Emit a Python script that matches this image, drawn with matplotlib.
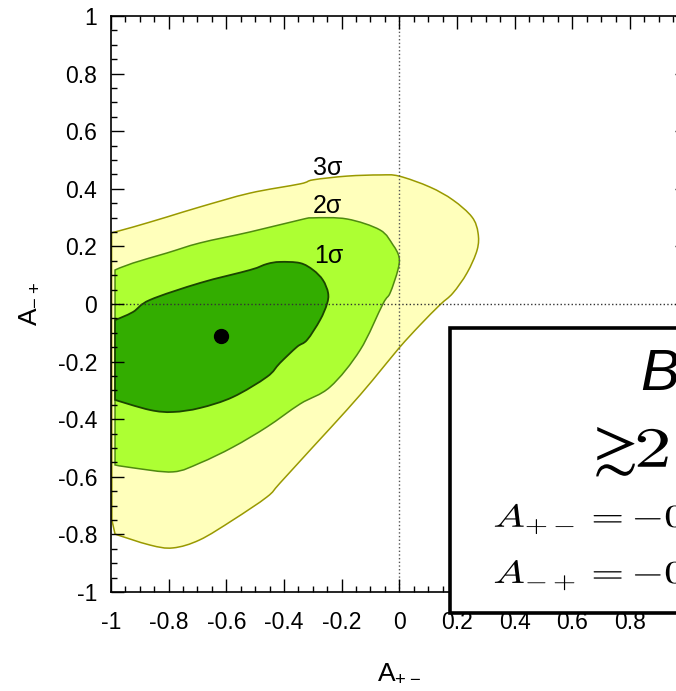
import matplotlib
matplotlib.use("Agg")
import numpy as np
import matplotlib.pyplot as plt
from matplotlib.patches import Rectangle, PathPatch
from matplotlib.path import Path
from matplotlib.textpath import TextPath
from matplotlib.font_manager import FontProperties
from matplotlib.transforms import Affine2D, ScaledTranslation
from matplotlib.ticker import MultipleLocator, FuncFormatter

plt.rcParams['font.family'] = ['Liberation Sans', 'DejaVu Sans']
plt.rcParams['axes.unicode_minus'] = False

# confidence-level boundaries in the (A_{+-}, A_{-+}) plane
sigma3_x = [-0.998, -0.924, -0.806, -0.691, -0.518, -0.344, -0.299, -0.181, -0.067, -0.001,
            0.106, 0.186, 0.252, 0.273, 0.270, 0.235, 0.186, 0.141, 0.072, -0.001,
            -0.092, -0.182, -0.300, -0.414, -0.459, -0.577, -0.692, -0.785, -0.865, -0.986,
            -0.997, -0.998]
sigma3_y = [0.247, 0.267, 0.302, 0.337, 0.385, 0.417, 0.431, 0.444, 0.448, 0.444,
            0.406, 0.361, 0.302, 0.247, 0.188, 0.108, 0.038, -0.003, -0.073, -0.153,
            -0.264, -0.368, -0.497, -0.622, -0.670, -0.750, -0.819, -0.847, -0.837, -0.799,
            -0.750, 0.014]

sigma2_x = [-0.986, -0.924, -0.806, -0.691, -0.518, -0.344, -0.299, -0.181, -0.067, -0.022,
            -0.001, -0.005, -0.032, -0.057, -0.136, -0.240, -0.344, -0.459, -0.577, -0.691,
            -0.785, -0.924, -0.986]
sigma2_y = [0.118, 0.142, 0.177, 0.212, 0.250, 0.292, 0.299, 0.295, 0.257, 0.205,
            0.163, 0.118, 0.038, 0.000, -0.160, -0.288, -0.347, -0.427, -0.497, -0.552,
            -0.583, -0.569, -0.559]

sigma1_x = [-0.986, -0.924, -0.865, -0.691, -0.518, -0.459, -0.414, -0.344, -0.299, -0.265,
            -0.247, -0.251, -0.275, -0.320, -0.355, -0.414, -0.459, -0.577, -0.691, -0.785,
            -0.865, -0.986]
sigma1_y = [-0.056, -0.028, 0.014, 0.073, 0.118, 0.139, 0.146, 0.142, 0.118, 0.083,
            0.038, 0.000, -0.056, -0.125, -0.149, -0.205, -0.253, -0.323, -0.361, -0.375,
            -0.368, -0.333]

best_fit = (-0.619, -0.110)

level_names = ['3σ', '2σ', '1σ']
level_label_x = [-0.248, -0.248, -0.244]
level_label_y = [0.472, 0.340, 0.167]


def smooth_contour(xs, ys, corners=()):
    """Closed Bezier path through the vertices; tangent is zeroed at corner vertices."""
    pts = np.column_stack([xs, ys])
    n = len(pts)
    tang = np.array([(pts[(i + 1) % n] - pts[i - 1]) / 2 for i in range(n)])
    for c in corners:
        tang[c % n] = 0
    verts = [pts[0]]
    codes = [Path.MOVETO]
    for i in range(n):
        j = (i + 1) % n
        verts += [pts[i] + tang[i] / 3, pts[j] - tang[j] / 3, pts[j]]
        codes += [Path.CURVE4] * 3
    verts.append(pts[0])
    codes.append(Path.CLOSEPOLY)
    return Path(verts, codes)


def wide_text(ax, x, y, s, size, stretch=1.0, zorder=6):
    """Math text as an outline, widened horizontally, baseline-left anchored at (x, y)."""
    prop = FontProperties(family='DejaVu Serif', math_fontfamily='cm')
    tp = TextPath((0, 0), s, size=size, prop=prop)
    fig = ax.figure
    tr = (Affine2D().scale(stretch / 72.0, 1 / 72.0) + fig.dpi_scale_trans
          + ScaledTranslation(x, y, ax.transData))
    ax.add_patch(PathPatch(tp, transform=tr, facecolor='black', edgecolor='none',
                           clip_on=False, zorder=zorder))


fig = plt.figure(figsize=(6.76, 6.91), dpi=100)
# axes run past the right edge of the canvas
ax = fig.add_axes([0.1642, 0.1433, 0.853, 0.8336])

ax.add_patch(PathPatch(smooth_contour(sigma3_x, sigma3_y, corners=(0, -3, -2, -1)),
                       facecolor='#ffffbb', edgecolor='#999900', linewidth=1.1, zorder=1))
ax.add_patch(PathPatch(smooth_contour(sigma2_x, sigma2_y, corners=(0, -1)),
                       facecolor='#adff33', edgecolor='#4f8a10', linewidth=1.1, zorder=1.1))
ax.add_patch(PathPatch(smooth_contour(sigma1_x, sigma1_y, corners=(0, -1)),
                       facecolor='#33ad00', edgecolor='#1a4400', linewidth=1.3, zorder=1.2))

ax.axvline(0, color='#555555', linestyle=':', linewidth=1.0, zorder=1.5)
ax.axhline(0, color='#333333', linestyle=':', linewidth=1.0, zorder=1.5)

ax.plot(best_fit[0], best_fit[1], 'o', color='black', markersize=10, zorder=3)

for name, lx, ly in zip(level_names, level_label_x, level_label_y):
    ax.text(lx, ly, name, fontsize=18, ha='center', va='center', zorder=3)

ax.set_xlim(-1, 1)
ax.set_ylim(-1, 1)

fmt = FuncFormatter(lambda v, pos: '%g' % round(v, 2))
for axis in (ax.xaxis, ax.yaxis):
    axis.set_major_locator(MultipleLocator(0.2))
    axis.set_minor_locator(MultipleLocator(0.05))
    axis.set_major_formatter(fmt)

ax.tick_params(which='both', direction='in', top=True, right=True, width=1.0)
ax.tick_params(which='major', length=9.5)
ax.tick_params(which='minor', length=4.5)
ax.tick_params(axis='x', which='major', pad=14, labelsize=16.5)
ax.tick_params(axis='y', which='major', pad=10, labelsize=16.5)
for sp in ax.spines.values():
    sp.set_linewidth(1.2)

ax.set_xlabel(r'$\mathregular{A_{+-}}$', fontsize=19)
ax.set_ylabel(r'$\mathregular{A_{-+}}$', fontsize=19)
ax.xaxis.set_label_coords(0.50, -0.12)
ax.yaxis.set_label_coords(-0.122, 0.50)

# summary box drawn on top of the tick labels
box = Rectangle((0.176, -1.073), 1.2, 0.99, facecolor='white', edgecolor='black',
                linewidth=2.6, clip_on=False, zorder=5)
ax.add_patch(box)
ax.text(0.835, -0.299, 'B', fontsize=42, fontstyle='italic', ha='left', va='baseline',
        clip_on=False, zorder=6)
wide_text(ax, 0.632, -0.566, r'$\gtrsim$', 43, stretch=1.1)
wide_text(ax, 0.814, -0.566, r'$2$', 41, stretch=1.32)
wide_text(ax, 0.326, -0.774, r'$A_{+-} = -0$', 23, stretch=1.32)
wide_text(ax, 0.326, -0.969, r'$A_{-+} = -0$', 23, stretch=1.32)

fig.savefig('out.png', dpi=100)
